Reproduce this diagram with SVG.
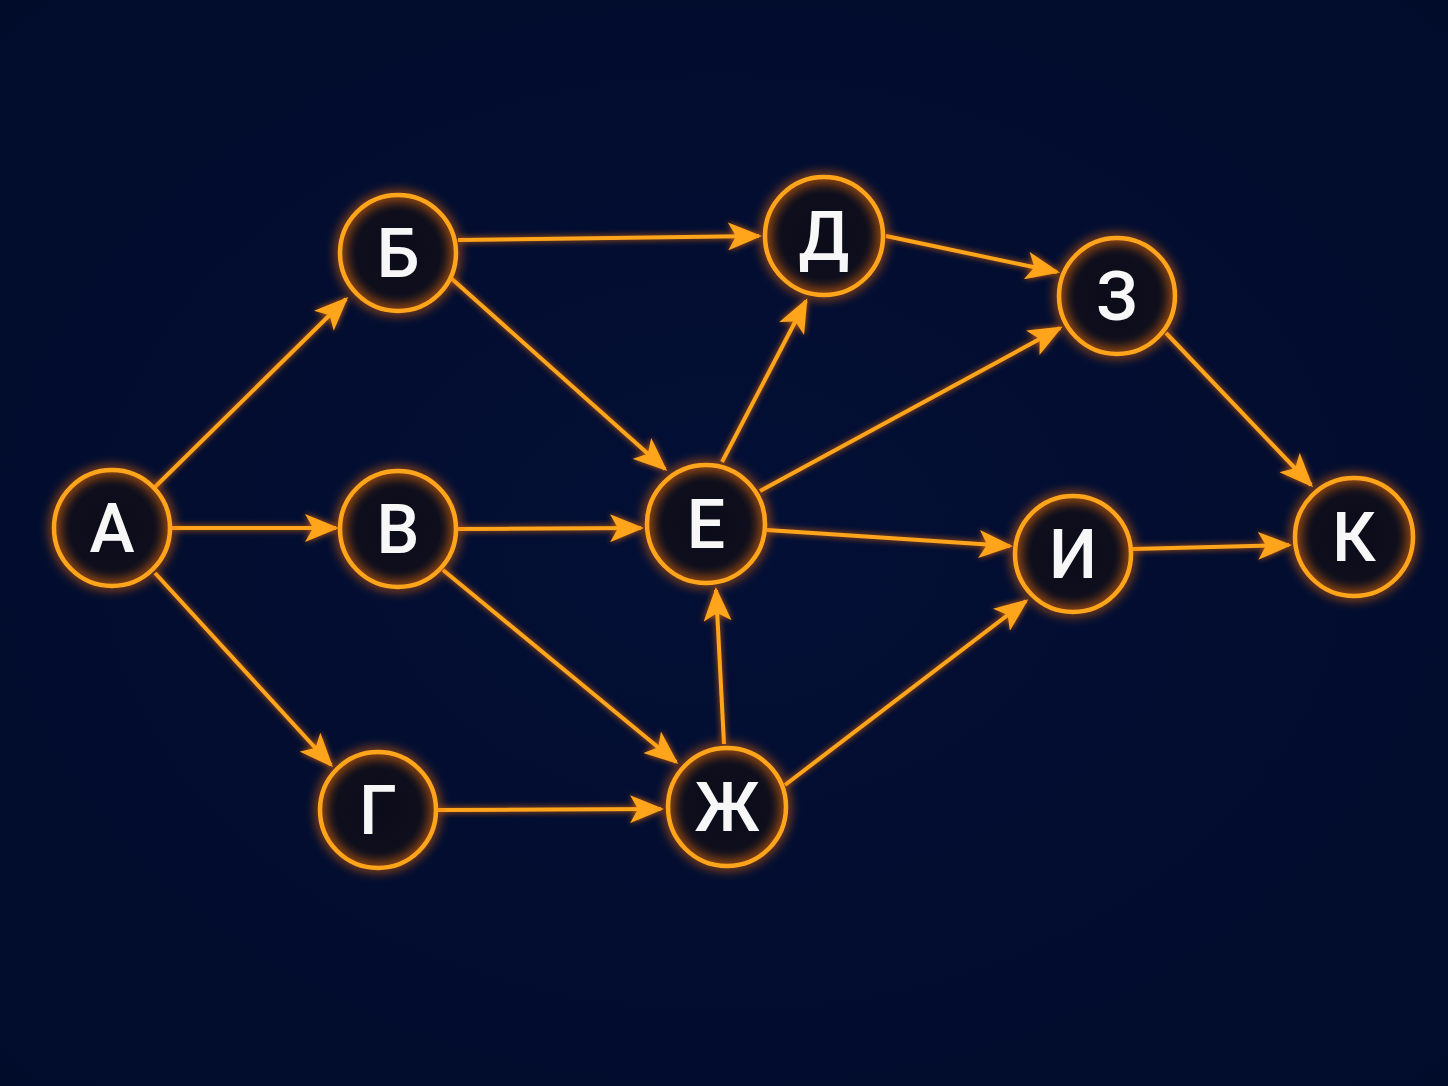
<svg xmlns="http://www.w3.org/2000/svg" width="1448" height="1086" viewBox="0 0 1448 1086">
  <defs>
    <radialGradient id="bg" cx="50%" cy="50%" r="75%">
      <stop offset="0" stop-color="#030f35"/>
      <stop offset="1" stop-color="#010b2a"/>
    </radialGradient>
    <radialGradient id="nodeFill" cx="50%" cy="50%" r="50%">
      <stop offset="0" stop-color="#0b0c19"/>
      <stop offset="0.72" stop-color="#0e0e1c"/>
      <stop offset="1" stop-color="#33201c"/>
    </radialGradient>
    <filter id="glow" x="-30%" y="-30%" width="160%" height="160%">
      <feGaussianBlur in="SourceGraphic" stdDeviation="6" result="b"/>
      <feColorMatrix in="b" type="matrix" values="1 0 0 0 0  0 0.45 0 0 0  0 0 0.05 0 0  0 0 0 1.2 0" result="c"/>
      <feMerge>
        <feMergeNode in="c"/>
        <feMergeNode in="SourceGraphic"/>
      </feMerge>
    </filter>
    <filter id="lineGlow" x="0" y="0" width="1448" height="1086" filterUnits="userSpaceOnUse">
      <feGaussianBlur in="SourceGraphic" stdDeviation="3" result="b"/>
      <feColorMatrix in="b" type="matrix" values="1 0 0 0 0  0 0.45 0 0 0  0 0 0.05 0 0  0 0 0 0.8 0" result="c"/>
      <feMerge>
        <feMergeNode in="c"/>
        <feMergeNode in="SourceGraphic"/>
      </feMerge>
    </filter>
    <marker id="arrow" markerUnits="userSpaceOnUse" markerWidth="36" markerHeight="28" refX="31" refY="14" orient="auto">
      <path d="M0,0 L34,14 L0,28 L8,14 Z" fill="#ffa51c"/>
    </marker>
  </defs>
  <style>
    .edge { stroke: #ffa51c; stroke-width: 4; fill: none; marker-end: url(#arrow); }
    .fill { fill: url(#nodeFill); }
    .ring { fill: none; stroke: #ffa51c; stroke-width: 4.5; }
    .label { font-family: Roboto, "Liberation Sans", sans-serif; font-weight: 500; font-size: 68px; fill: #f7f7f7; text-anchor: middle; }
  </style>
  <rect width="1448" height="1086" fill="url(#bg)"/>

  <g id="connectors" filter="url(#lineGlow)">
    <line class="edge" x1="155" y1="487" x2="346" y2="299"/>
    <line class="edge" x1="172" y1="528" x2="336" y2="528"/>
    <line class="edge" x1="155" y1="573" x2="331" y2="765"/>
    <line class="edge" x1="458" y1="240" x2="759" y2="236"/>
    <line class="edge" x1="452" y1="279" x2="665" y2="469"/>
    <line class="edge" x1="458" y1="529" x2="641" y2="528"/>
    <line class="edge" x1="443" y1="570" x2="676" y2="762"/>
    <line class="edge" x1="438" y1="810" x2="661" y2="809"/>
    <line class="edge" x1="886" y1="236" x2="1057" y2="272"/>
    <line class="edge" x1="722" y1="462" x2="806" y2="301"/>
    <line class="edge" x1="760" y1="491" x2="1060" y2="328"/>
    <line class="edge" x1="767" y1="530" x2="1010" y2="546"/>
    <line class="edge" x1="724" y1="744" x2="716" y2="590"/>
    <line class="edge" x1="785" y1="785" x2="1026" y2="601"/>
    <line class="edge" x1="1166" y1="333" x2="1311" y2="485"/>
    <line class="edge" x1="1133" y1="549" x2="1289" y2="545"/>
  </g>

  <g id="node-A">
    <circle class="fill" cx="112" cy="528" r="58"/>
    <circle class="ring" cx="112" cy="528" r="58" filter="url(#glow)"/>
    <text class="label" x="112" y="552">А</text>
  </g>
  <g id="node-B">
    <circle class="fill" cx="398" cy="253" r="58"/>
    <circle class="ring" cx="398" cy="253" r="58" filter="url(#glow)"/>
    <text class="label" x="398" y="277">Б</text>
  </g>
  <g id="node-V">
    <circle class="fill" cx="398" cy="529" r="58"/>
    <circle class="ring" cx="398" cy="529" r="58" filter="url(#glow)"/>
    <text class="label" x="398" y="553">В</text>
  </g>
  <g id="node-G">
    <circle class="fill" cx="378" cy="810" r="58"/>
    <circle class="ring" cx="378" cy="810" r="58" filter="url(#glow)"/>
    <text class="label" x="378" y="834">Г</text>
  </g>
  <g id="node-D">
    <circle class="fill" cx="824" cy="236" r="59"/>
    <circle class="ring" cx="824" cy="236" r="59" filter="url(#glow)"/>
    <text class="label" x="824" y="260">Д</text>
  </g>
  <g id="node-E">
    <circle class="fill" cx="706" cy="524" r="59"/>
    <circle class="ring" cx="706" cy="524" r="59" filter="url(#glow)"/>
    <text class="label" x="706" y="548">Е</text>
  </g>
  <g id="node-Zh">
    <circle class="fill" cx="727" cy="807" r="59"/>
    <circle class="ring" cx="727" cy="807" r="59" filter="url(#glow)"/>
    <text class="label" x="727" y="831">Ж</text>
  </g>
  <g id="node-Z">
    <circle class="fill" cx="1117" cy="296" r="58"/>
    <circle class="ring" cx="1117" cy="296" r="58" filter="url(#glow)"/>
    <text class="label" x="1117" y="320">З</text>
  </g>
  <g id="node-I">
    <circle class="fill" cx="1073" cy="554" r="58"/>
    <circle class="ring" cx="1073" cy="554" r="58" filter="url(#glow)"/>
    <text class="label" x="1073" y="578">И</text>
  </g>
  <g id="node-K">
    <circle class="fill" cx="1354" cy="537" r="59"/>
    <circle class="ring" cx="1354" cy="537" r="59" filter="url(#glow)"/>
    <text class="label" x="1354" y="561">К</text>
  </g>
</svg>
